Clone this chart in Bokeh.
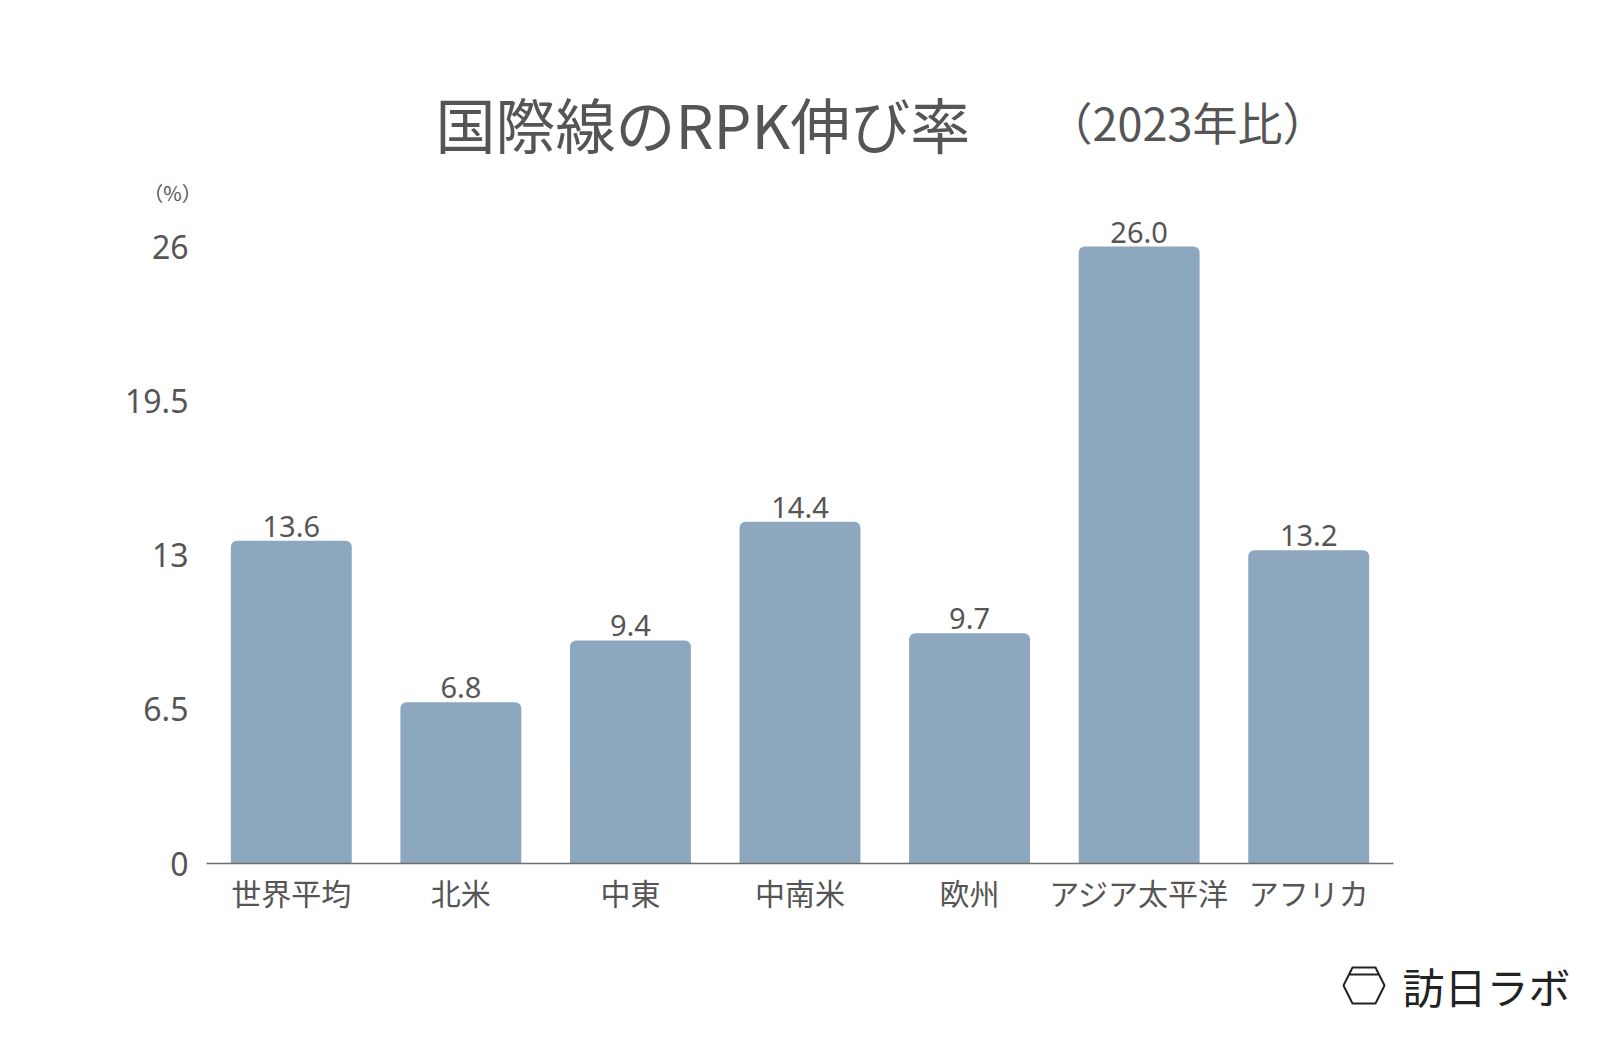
from bokeh.plotting import figure
from bokeh.layouts import column
from bokeh.models import (ColumnDataSource, FactorRange, Range1d, FixedTicker,
                          NumeralTickFormatter)
from bokeh.core.properties import value
from bokeh.embed import file_html
from bokeh.resources import INLINE

categories = ["世界平均", "北米", "中東", "中南米", "欧州", "アジア太平洋", "アフリカ"]
growth = [13.6, 6.8, 9.4, 14.4, 9.7, 26.0, 13.2]
y_ticks = [0, 6.5, 13, 19.5, 26]
title_main = "国際線のRPK伸び率"
title_sub = "（2023年比）"
unit_label = "（%）"
logo_text = "訪日ラボ"

TEXT = "#555555"
BAR = "#8da7bf"
JP = "Noto Sans CJK JP"
NUM = "Noto Sans"

W = 1600
TOP_H = 210
MAIN_H = 940 - TOP_H
BOT_H = 108
L, R = 206, 207
MAIN_B = 77


def blank(h, y0):
    f = figure(width=W, height=h, x_range=Range1d(0, W), y_range=Range1d(y0 + h, y0),
               x_axis_type=None, y_axis_type=None, output_backend="svg",
               toolbar_location=None, min_border=0)
    f.frame_align = False
    f.outline_line_color = None
    f.grid.visible = False
    f.border_fill_color = "white"
    f.background_fill_color = "white"
    return f


# ---- header (title and unit) ----
top = blank(TOP_H, 0)
top.text(x=[435], y=[122], text=[title_main], text_font=value(JP), text_font_size="60px",
         text_color=TEXT, text_baseline="middle", text_align="left")
top.text(x=[1047], y=[121], text=[title_sub], text_font=value(JP), text_font_size="45px",
         text_color=TEXT, text_baseline="middle", text_align="left")
top.text(x=[172], y=[192], text=[unit_label], text_font=value(JP), text_font_size="20px",
         text_color=TEXT, text_baseline="middle", text_align="center")

# ---- main chart ----
src = ColumnDataSource(dict(cat=categories, v=growth,
                            lab=[f"{x:.1f}" for x in growth]))
frame_h = MAIN_H - MAIN_B
ymax = 26 * frame_h / (863 - 246)

p = figure(width=W, height=MAIN_H, x_range=FactorRange(*categories, range_padding=0),
           y_range=Range1d(0, ymax), output_backend="svg", toolbar_location=None,
           min_border_left=L, min_border_right=R, min_border_top=0, min_border_bottom=MAIN_B)
p.frame_align = False
p.outline_line_color = None
p.grid.visible = False
p.background_fill_color = "white"
p.border_fill_color = "white"

p.vbar(x="cat", top="v", width=0.713, source=src, fill_color=BAR, line_color=None,
       border_radius=(6, 6, 0, 0))
p.text(x="cat", y="v", text="lab", source=src, text_align="center",
       text_baseline="bottom", y_offset=-4, text_font=value(NUM),
       text_font_size="29px", text_color=TEXT)

xa = p.xaxis[0]
xa.axis_line_color = "#6e6e6e"
xa.axis_line_width = 1.5
xa.major_tick_line_color = None
xa.minor_tick_line_color = None
xa.major_label_text_font = JP
xa.major_label_text_font_size = "30px"
xa.major_label_text_color = TEXT
xa.major_label_standoff = 0

ya = p.yaxis[0]
ya.ticker = FixedTicker(ticks=y_ticks)
ya.formatter = NumeralTickFormatter(format="0.[0]")
ya.axis_line_color = None
ya.major_tick_line_color = None
ya.minor_tick_line_color = None
ya.major_label_text_font = NUM
ya.major_label_text_font_size = "32px"
ya.major_label_text_color = TEXT
ya.major_label_standoff = 12

# ---- footer logo ----
bot = blank(BOT_H, TOP_H + MAIN_H)
bot.text(x=[1402], y=[985], text=[logo_text], text_font=value(JP), text_font_size="42px",
         text_color="#222222", text_baseline="middle", text_align="left")
bot.patch(x=[1343, 1352, 1375, 1384, 1375, 1352], y=[985, 967, 967, 985, 1003, 1003],
          fill_alpha=0, line_color="#222222", line_width=2)
bot.line(x=[1349, 1378], y=[974, 974], line_color="#222222", line_width=2)

layout = column(top, p, bot, spacing=0)
open("out.html", "w").write(file_html(layout, INLINE))
